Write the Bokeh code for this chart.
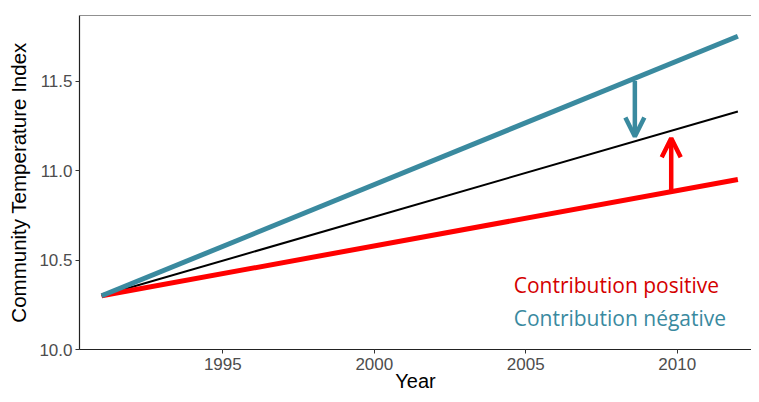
from bokeh.plotting import figure
from bokeh.models import Range1d, FixedTicker, Span, Arrow, OpenHead, NumeralTickFormatter, Label
from bokeh.embed import file_html
from bokeh.resources import INLINE

# data
years = [1991, 2012]
cti_negative = [10.30, 11.75]   # blue
cti_reference = [10.30, 11.33]  # black
cti_positive = [10.30, 10.95]   # red

arrow_neg_x = 2008.6
arrow_neg_from, arrow_neg_to = 11.50, 11.19
arrow_pos_x = 2009.8
arrow_pos_from, arrow_pos_to = 10.89, 11.18

x_ticks = [1995, 2000, 2005, 2010]
y_ticks = [10.0, 10.5, 11.0, 11.5]
labels = ["Contribution positive", "Contribution négative"]

BLUE = "#3a8a9f"
RED = "#ff0000"
FONT = "Liberation Sans"
Y_TOP = 11.866

p = figure(width=751, height=394, output_backend="svg", toolbar_location=None,
           x_range=Range1d(1990.27, 2012.45), y_range=Range1d(10.0, Y_TOP),
           min_border_left=79, min_border_top=15, min_border_right=0, min_border_bottom=10)
p.outline_line_color = None
p.grid.grid_line_color = None
p.background_fill_color = "white"

p.add_layout(Span(location=Y_TOP, dimension="width", line_color="#222222", line_width=1.2))

p.line(years, cti_reference, line_color="black", line_width=2)
p.line(years, cti_positive, line_color=RED, line_width=5)
p.line(years, cti_negative, line_color=BLUE, line_width=5)

p.add_layout(Arrow(end=OpenHead(size=19, line_color=BLUE, line_width=4.5),
                   x_start=arrow_neg_x, y_start=arrow_neg_from, x_end=arrow_neg_x, y_end=arrow_neg_to,
                   line_color=BLUE, line_width=4.5))
p.add_layout(Arrow(end=OpenHead(size=19, line_color=RED, line_width=4.5),
                   x_start=arrow_pos_x, y_start=arrow_pos_from, x_end=arrow_pos_x, y_end=arrow_pos_to,
                   line_color=RED, line_width=4.5))

p.add_layout(Label(x=2004.6, y=10.36, text=labels[0], text_color="#d40000", text_font="Open Sans",
                   text_font_size="21px", text_baseline="middle"))
p.add_layout(Label(x=2004.6, y=10.175, text=labels[1], text_color=BLUE, text_font="Open Sans",
                   text_font_size="21px", text_baseline="middle"))

for ax in (p.xaxis[0], p.yaxis[0]):
    ax.axis_line_color = "#222222"
    ax.axis_line_width = 1.2
    ax.major_tick_line_color = "#333333"
    ax.major_tick_in = 0
    ax.major_tick_out = 4
    ax.minor_tick_line_color = None
    ax.major_label_text_font = FONT
    ax.major_label_text_font_size = "17px"
    ax.major_label_text_color = "#4d4d4d"
    ax.axis_label_text_font = FONT
    ax.axis_label_text_font_style = "normal"
    ax.axis_label_text_color = "black"

p.xaxis.major_label_standoff = 4
p.yaxis.major_label_standoff = 3
p.xaxis.ticker = FixedTicker(ticks=x_ticks)
p.yaxis.ticker = FixedTicker(ticks=y_ticks)
p.yaxis.formatter = NumeralTickFormatter(format="0.0")
p.xaxis.axis_label = "Year"
p.yaxis.axis_label = "Community Temperature Index"
p.xaxis.axis_label_text_font_size = "20px"
p.yaxis.axis_label_text_font_size = "20.5px"
p.xaxis.axis_label_standoff = -3
p.yaxis.axis_label_standoff = 6

open("out.html", "w").write(file_html(p, INLINE))
